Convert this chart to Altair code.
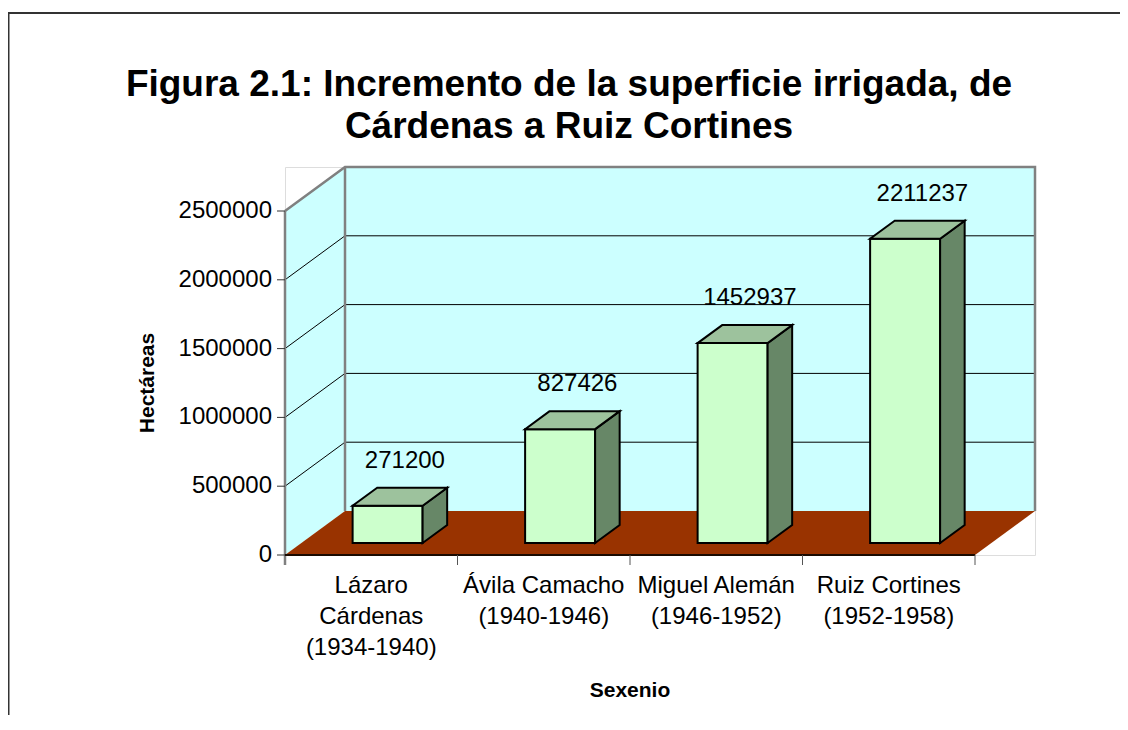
import altair as alt
import pandas as pd

# ---------------- data ----------------
categories = ["Lázaro Cárdenas (1934-1940)", "Ávila Camacho (1940-1946)",
              "Miguel Alemán (1946-1952)", "Ruiz Cortines (1952-1958)"]
category_lines = [["Lázaro", "Cárdenas", "(1934-1940)"],
                  ["Ávila Camacho", "(1940-1946)"],
                  ["Miguel Alemán", "(1946-1952)"],
                  ["Ruiz Cortines", "(1952-1958)"]]
values = [271200, 827426, 1452937, 2211237]
y_ticks = [0, 500000, 1000000, 1500000, 2000000, 2500000]
title_lines = ["Figura 2.1: Incremento de la superficie irrigada, de",
               "Cárdenas a Ruiz Cortines"]
y_title = "Hectáreas"
x_title = "Sexenio"

# ---------------- geometry / style ----------------
FONT = "Liberation Sans"
FS = 24
N = len(values)
Y_MAX = y_ticks[-1]
W, H = 750, 388
PX_X = (N + 60 / 172.5) / W   # data units per pixel (x)
DX = 60 / 172.5               # wall depth in category units
DY = 44 * Y_MAX / 344         # wall depth in value units
X_MAX = N + DX
Y_TOP = Y_MAX + DY
PX_Y = Y_TOP / H              # data units per pixel (y)
HALF = 35 / 172.5             # half bar width (category units)
D0, D1 = 12 / 44, 30 / 44     # bar front / back depth fractions

xs = alt.Scale(domain=[0, X_MAX], nice=False, zero=False)
ys = alt.Scale(domain=[0, Y_TOP], nice=False, zero=False)


def X(f="x", **kw):
    return alt.X(f"{f}:Q", scale=xs, axis=None, **kw)


def Y(f="y", **kw):
    return alt.Y(f"{f}:Q", scale=ys, axis=None, **kw)


one = pd.DataFrame({"a": [0]})

back = alt.Chart(pd.DataFrame({"x": [DX], "x2": [X_MAX], "y": [DY], "y2": [Y_TOP]})).mark_rect(
    fill="#CCFFFF").encode(x=X(), x2="x2:Q", y=Y(), y2="y2:Q")

left = alt.Chart(pd.DataFrame({"x": [0, DX], "y": [0, DY], "y2": [Y_MAX, Y_TOP]})).mark_area(
    fill="#CCFFFF", orient="vertical").encode(x=X(), y=Y(stack=None), y2="y2:Q")

floor = alt.Chart(pd.DataFrame({"y": [0, DY], "x": [0, DX], "x2": [N, N + DX]})).mark_area(
    fill="#993300", orient="horizontal").encode(y=Y(), x=X(stack=None), x2="x2:Q")

grid_rows = []
for v in y_ticks[1:-1]:
    grid_rows += [dict(x=0, y=v, g=v, o=0), dict(x=DX, y=v + DY, g=v, o=1),
                  dict(x=X_MAX, y=v + DY, g=v, o=2)]
grid = alt.Chart(pd.DataFrame(grid_rows)).mark_line(color="black", strokeWidth=1).encode(
    x=X(), y=Y(), detail="g:N", order="o:Q")

border_rows = [dict(x=0, y=Y_MAX, g=0, o=0), dict(x=DX, y=Y_TOP, g=0, o=1),
               dict(x=X_MAX, y=Y_TOP, g=0, o=2), dict(x=X_MAX, y=DY, g=0, o=3),
               dict(x=DX, y=DY, g=1, o=0), dict(x=DX, y=Y_TOP, g=1, o=1),
               dict(x=0, y=-10 * PX_Y, g=2, o=0), dict(x=0, y=Y_MAX, g=2, o=1)]
borders = alt.Chart(pd.DataFrame(border_rows)).mark_line(
    color="#808080", strokeWidth=2.5).encode(x=X(), y=Y(), detail="g:N", order="o:Q")

front_edge = alt.Chart(pd.DataFrame({"x": [0], "x2": [N], "y": [0]})).mark_rule(
    color="#1a0a00", strokeWidth=2).encode(x=X(), x2="x2:Q", y=Y())

# category-axis ticks (at category boundaries)
xticks = alt.Chart(pd.DataFrame({"x": list(range(1, N + 1)), "y": [0] * N,
                                 "y2": [-10 * PX_Y] * N})).mark_rule(
    color="#555", strokeWidth=1).encode(x=X(), y=Y(), y2="y2:Q")

# value-axis ticks and labels
ytick_df = pd.DataFrame({"x": [0] * len(y_ticks), "x2": [-8 * PX_X] * len(y_ticks),
                         "y": y_ticks, "t": [str(t) for t in y_ticks]})
yticks = alt.Chart(ytick_df).mark_rule(color="#333", strokeWidth=1).encode(
    x=X(), x2="x2:Q", y=Y())
ylabels = alt.Chart(ytick_df).mark_text(
    font=FONT, fontSize=FS, color="black", align="right", baseline="middle", dx=-13).encode(
    x=X(), y=Y(), text="t:N")

# category labels
cat_df = pd.DataFrame({"x": [i + 0.5 for i in range(N)], "y": [0] * N,
                       "t": ["\n".join(l) for l in category_lines]})
xlabels = alt.Chart(cat_df).mark_text(
    font=FONT, fontSize=FS, color="black", align="center", baseline="top",
    lineBreak="\n", lineHeight=31, dy=19).encode(x=X(), y=Y(), text="t:N")

# bars
front_rows, side_rows, top_rows, lab_rows = [], [], [], []
for i, v in enumerate(values):
    c = i + 0.5
    front_rows.append(dict(x=c - HALF + D0 * DX, x2=c + HALF + D0 * DX, y=D0 * DY, y2=v + D0 * DY))
    side_rows += [dict(x=c + HALF + D0 * DX, y=D0 * DY, y2=v + D0 * DY, g=i),
                  dict(x=c + HALF + D1 * DX, y=D1 * DY, y2=v + D1 * DY, g=i)]
    top_rows += [dict(y=v + D0 * DY, x=c - HALF + D0 * DX, x2=c + HALF + D0 * DX, g=i),
                 dict(y=v + D1 * DY, x=c - HALF + D1 * DX, x2=c + HALF + D1 * DX, g=i)]
    lab_rows.append(dict(x=c + (D0 + D1) / 2 * DX, y=v + D1 * DY, v=v, cat=categories[i]))

fronts = alt.Chart(pd.DataFrame(front_rows)).mark_rect(
    fill="#CCFFCC", stroke="black", strokeWidth=2).encode(x=X(), x2="x2:Q", y=Y(), y2="y2:Q")
sides = alt.Chart(pd.DataFrame(side_rows)).mark_area(
    fill="#678767", stroke="black", strokeWidth=2, orient="vertical").encode(
    x=X(), y=Y(stack=None), y2="y2:Q", detail="g:N")
tops = alt.Chart(pd.DataFrame(top_rows)).mark_area(
    fill="#9DC29D", stroke="black", strokeWidth=2, orient="horizontal").encode(
    y=Y(), x=X(stack=None), x2="x2:Q", detail="g:N")

labels = alt.Chart(pd.DataFrame(lab_rows)).mark_text(
    font=FONT, fontSize=FS, color="black", baseline="alphabetic", align="center",
    dx=5, dy=-20).encode(x=X(), y=Y(), text=alt.Text("v:Q", format="d"))

# titles
title = alt.Chart(one).mark_text(
    text="\n".join(title_lines), lineBreak="\n", lineHeight=42, font=FONT, fontSize=37,
    fontWeight="bold", color="black", align="center", baseline="alphabetic").encode(
    x=alt.value(284), y=alt.value(-71))
xtitle = alt.Chart(one).mark_text(
    text=x_title, font=FONT, fontSize=21, fontWeight="bold", color="black",
    align="center", baseline="middle").encode(x=alt.value(345), y=alt.value(524))
ytitle = alt.Chart(one).mark_text(
    text=y_title, font=FONT, fontSize=21, fontWeight="bold", color="black",
    align="center", baseline="middle", angle=270).encode(x=alt.value(-137), y=alt.value(216))

frame = alt.Chart(one).mark_rect(
    fill="transparent", stroke="#333", strokeWidth=2).encode(
    x=alt.value(-276.5), x2=alt.value(1200), y=alt.value(-154), y2=alt.value(900))

chart = alt.layer(back, left, floor, grid, borders, front_edge, xticks, yticks,
                  fronts, sides, tops, labels, ylabels, xlabels,
                  title, xtitle, ytitle, frame).properties(
    width=W, height=H,
    padding={"left": 277, "top": 159, "right": 85, "bottom": 160},
    autosize=alt.AutoSizeParams(type="none"),
).configure_view(stroke=None).configure(background="white")

chart.save("out.html", embed_options={"renderer": "svg", "actions": False})
